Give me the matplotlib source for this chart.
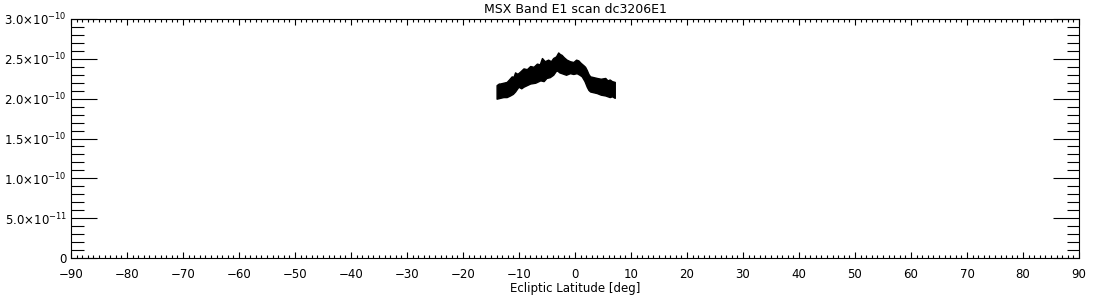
import matplotlib
matplotlib.use("Agg")
import matplotlib.pyplot as plt
from matplotlib.ticker import MultipleLocator
import numpy as np

# Band envelope (latitude in deg, brightness in units of 1e-10)
lat_upper = [-14.0, -13.6, -13.4, -12.8, -12.2, -11.8, -11.3, -11.0, -10.7, -10.3, -9.8,
             -9.5, -9.2, -8.6, -8.0, -7.4, -6.8, -6.3, -5.9, -5.4, -4.8, -4.3,
             -3.9, -3.4, -3.0, -2.7, -2.4, -2.0, -1.5, -0.9, -0.3, 0.2, 0.6, 1.0,
             1.5, 1.8, 2.1, 2.4, 2.7, 3.3, 3.9, 4.6, 5.4, 5.8, 6.2, 6.6, 7.1]
val_upper = [2.17, 2.19, 2.19, 2.20, 2.21, 2.24, 2.28, 2.27, 2.33, 2.31, 2.34,
             2.36, 2.38, 2.37, 2.41, 2.40, 2.44, 2.43, 2.51, 2.47, 2.49, 2.47,
             2.51, 2.53, 2.58, 2.56, 2.55, 2.52, 2.49, 2.47, 2.46, 2.49, 2.48, 2.45,
             2.42, 2.40, 2.36, 2.31, 2.28, 2.27, 2.26, 2.25, 2.26, 2.23, 2.24, 2.22, 2.21]
lat_lower = [-14.0, -13.4, -12.8, -12.2, -11.6, -11.1, -10.7, -10.4, -10.1, -9.6, -9.2,
             -8.6, -8.0, -7.1, -6.2, -5.6, -5.1, -4.5, -3.9, -3.6, -3.3, -2.8,
             -2.4, -1.6, -0.9, -0.3, 0.3, 0.8, 1.2, 1.7, 2.1, 2.4, 2.7, 3.3,
             3.9, 4.6, 5.4, 5.8, 6.2, 6.6, 7.1]
val_lower = [2.00, 2.01, 2.02, 2.02, 2.04, 2.06, 2.09, 2.12, 2.15, 2.13, 2.15,
             2.17, 2.19, 2.20, 2.23, 2.22, 2.26, 2.27, 2.30, 2.33, 2.36, 2.33,
             2.32, 2.30, 2.32, 2.31, 2.32, 2.30, 2.28, 2.22, 2.15, 2.11, 2.09, 2.08,
             2.07, 2.05, 2.04, 2.03, 2.02, 2.03, 2.01]

y_ticks = [0, 0.5e-10, 1.0e-10, 1.5e-10, 2.0e-10, 2.5e-10, 3.0e-10]
y_tick_labels = ["0", r"$5.0{\times}10^{-11}$", r"$1.0{\times}10^{-10}$", r"$1.5{\times}10^{-10}$",
                 r"$2.0{\times}10^{-10}$", r"$2.5{\times}10^{-10}$", r"$3.0{\times}10^{-10}$"]
x_ticks = list(range(-90, 91, 10))

title = "MSX Band E1 scan dc3206E1"
xlabel = "Ecliptic Latitude [deg]"

plt.rcParams['font.family'] = ['DejaVu Sans']
plt.rcParams['mathtext.fontset'] = 'dejavusans'

fig = plt.figure(figsize=(11, 3), dpi=100)
ax = fig.add_axes([71/1100, 42/300, 1008/1100, 239/300])

grid = np.union1d(lat_upper, lat_lower)
up = np.interp(grid, lat_upper, val_upper) * 1e-10
lo = np.interp(grid, lat_lower, val_lower) * 1e-10
ax.fill_between(grid, lo, up, color='black', linewidth=1.0, edgecolor='black',
                antialiased=False)

ax.set_xlim(-90, 90)
ax.set_ylim(0, 3.0e-10)
ax.set_xticks(x_ticks)
ax.xaxis.set_minor_locator(MultipleLocator(1))
ax.set_yticks(y_ticks)
ax.set_yticklabels(y_tick_labels)
ax.yaxis.set_minor_locator(MultipleLocator(0.1e-10))

ax.tick_params(axis='x', which='major', direction='in', length=4, width=0.8,
               top=True, bottom=True, labelsize=8.5, pad=7)
ax.tick_params(axis='x', which='minor', direction='in', length=2, width=0.8,
               top=True, bottom=True)
ax.tick_params(axis='y', which='major', direction='in', length=19, width=0.8,
               left=True, right=True, labelsize=8.5, pad=3)
ax.tick_params(axis='y', which='minor', direction='in', length=9, width=0.8,
               left=True, right=True)
for s in ax.spines.values():
    s.set_linewidth(0.8)

ax.set_title(title, fontsize=9, pad=4)
ax.set_xlabel(xlabel, fontsize=8.5, labelpad=1)

fig.savefig("out.png", dpi=100, facecolor='white')
